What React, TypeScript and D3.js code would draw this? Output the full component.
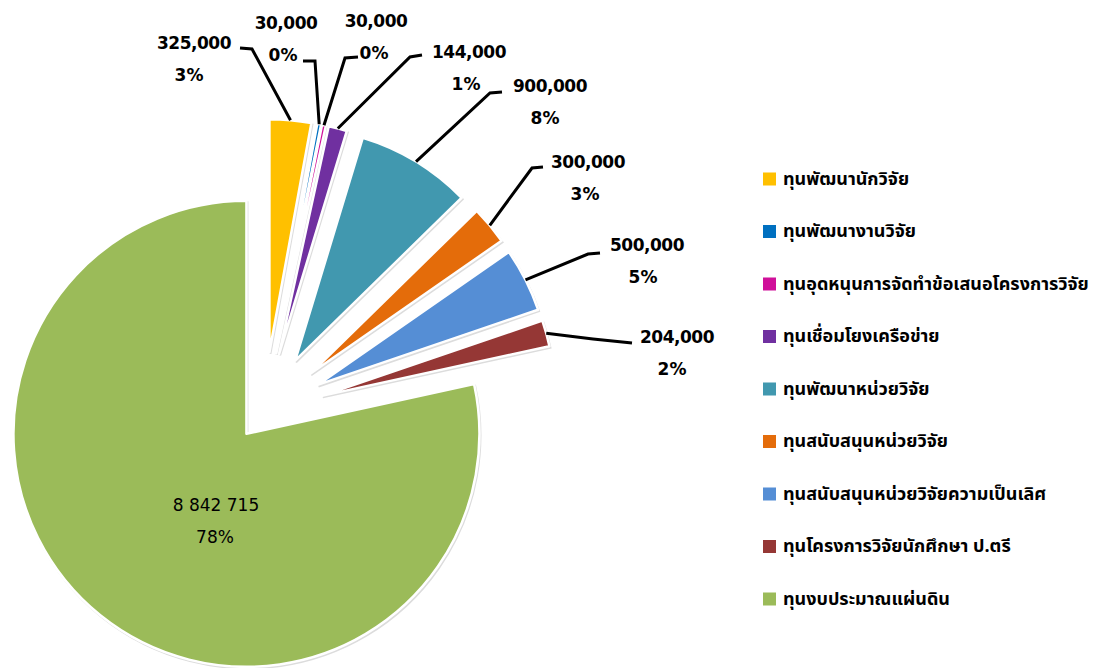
import React from "react";
import * as d3 from "d3";

const categories = [
  "ทุนพัฒนานักวิจัย",
  "ทุนพัฒนางานวิจัย",
  "ทุนอุดหนุนการจัดทำข้อเสนอโครงการวิจัย",
  "ทุนเชื่อมโยงเครือข่าย",
  "ทุนพัฒนาหน่วยวิจัย",
  "ทุนสนับสนุนหน่วยวิจัย",
  "ทุนสนับสนุนหน่วยวิจัยความเป็นเลิศ",
  "ทุนโครงการวิจัยนักศึกษา ป.ตรี",
  "ทุนงบประมาณแผ่นดิน",
];
const values = [325000, 30000, 30000, 144000, 900000, 300000, 500000, 204000, 8842715];
const valueLabels = ["325,000", "30,000", "30,000", "144,000", "900,000", "300,000", "500,000", "204,000", "8 842 715"];
const percentLabels = ["3%", "0%", "0%", "1%", "8%", "3%", "5%", "2%", "78%"];
const colors = ["#FFC000", "#0070C0", "#D0109A", "#7030A0", "#4198AF", "#E46C0A", "#558ED5", "#953735", "#9BBB59"];

// layout (not data)
const W = 1109, H = 668;
const CX = 264, CY = 412, R = 233;
const explodeOf = (i: number) => (i === values.length - 1 ? 28 : 60);
const labelLayout = [
  { tx: 194, ty: 43, px: 189, elbow: [252, 49], tip: [240, 48] },
  { tx: 286, ty: 23, px: 283, elbow: [315, 61], tip: [303, 61] },
  { tx: 376, ty: 21, px: 374, elbow: [345, 58], tip: [358, 57] },
  { tx: 469, ty: 52, px: 466, elbow: [410, 57], tip: [422, 55] },
  { tx: 550, ty: 86, px: 545, elbow: [490, 93], tip: [502, 92] },
  { tx: 588, ty: 162, px: 585, elbow: [532, 168], tip: [543, 167] },
  { tx: 647, ty: 245, px: 643, elbow: [588, 254], tip: [600, 253] },
  { tx: 677, ty: 337, px: 672, elbow: [593, 339], tip: [632, 343] },
  { tx: 216, ty: 505, px: 215, elbow: null, tip: null },
];

export default function App() {
  const pie = d3.pie<number>().sort(null).value((d) => d).startAngle(0).endAngle(2 * Math.PI);
  const arcs = pie(values);
  const arc = d3.arc<d3.PieArcDatum<number>>().innerRadius(0).outerRadius(R);

  const legendX = 763, legendY0 = 179, legendStep = 52.5;

  return (
    <svg width={W} height={H} style={{ position: "absolute", left: 0, top: 0, background: "#fff" }}>
      <g>
        {arcs.map((a, i) => {
          const mid = (a.startAngle + a.endAngle) / 2;
          const e = explodeOf(i);
          const ox = CX + e * Math.sin(mid);
          const oy = CY - e * Math.cos(mid);
          return (
            <g key={i} transform={`translate(${ox},${oy})`}>
              <path d={arc(a) || ""} transform="translate(1,1.5)" fill="#dcdcdc" stroke="#dcdcdc" strokeWidth={2} />
              <path d={arc(a) || ""} fill={colors[i]} stroke="#fff" strokeWidth={2.5} strokeLinejoin="round" />
            </g>
          );
        })}
      </g>
      <g>
        {arcs.map((a, i) => {
          const L = labelLayout[i];
          if (!L.elbow || !L.tip) return null;
          const mid = (a.startAngle + a.endAngle) / 2;
          const e = explodeOf(i);
          const ex = CX + (e + R) * Math.sin(mid);
          const ey = CY - (e + R) * Math.cos(mid);
          const line = d3.line()([[ex, ey], L.elbow as [number, number], L.tip as [number, number]]);
          return <path key={i} d={line || ""} fill="none" stroke="#000" strokeWidth={3} />;
        })}
      </g>
      <g fontFamily="'DejaVu Sans', Verdana, sans-serif" fontSize={17} fill="#000">
        {arcs.map((a, i) => {
          const L = labelLayout[i];
          const isLast = i === values.length - 1;
          return (
            <g key={i} fontWeight={isLast ? "normal" : "bold"} textAnchor="middle">
              <text x={L.tx} y={L.ty} dominantBaseline="central" letterSpacing={isLast ? 0 : -0.5}>
                {valueLabels[i]}
              </text>
              <text x={L.px} y={L.ty + 32} dominantBaseline="central">
                {percentLabels[i]}
              </text>
            </g>
          );
        })}
      </g>
      <g fontFamily="'Noto Sans Thai', Tahoma, 'DejaVu Sans', sans-serif" fontSize={18} fontWeight="bold">
        {categories.map((c, i) => (
          <g key={i} transform={`translate(${legendX},${legendY0 + i * legendStep})`}>
            <rect x={0} y={-6.5} width={13} height={13} fill={colors[i]} />
            <text x={20} y={0} dominantBaseline="central">
              {c}
            </text>
          </g>
        ))}
      </g>
    </svg>
  );
}
